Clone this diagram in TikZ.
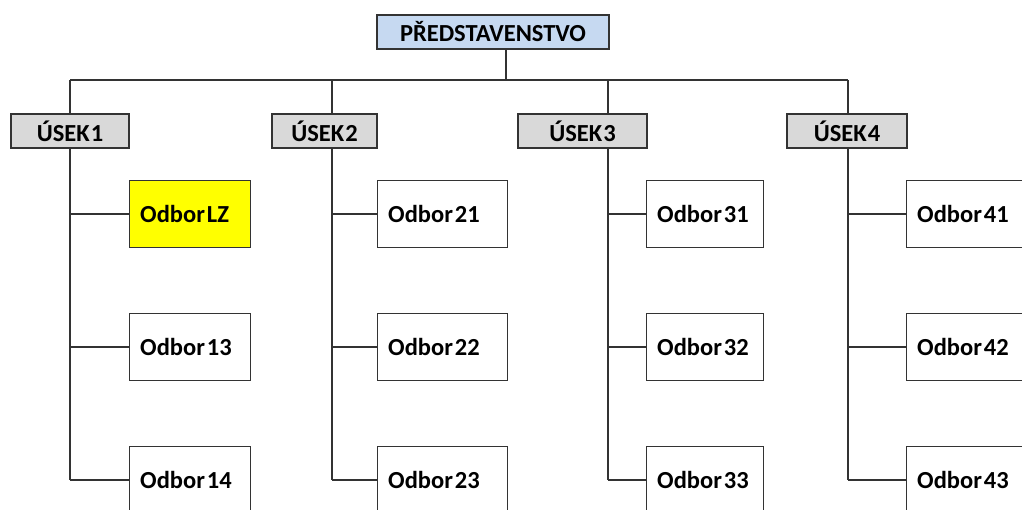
\documentclass[tikz,border=0pt]{standalone}
\usepackage{fontspec}
\setmainfont{Carlito}
\definecolor{lineC}{HTML}{333333}
\definecolor{blueF}{HTML}{C6D9F1}
\definecolor{grayF}{HTML}{D9D9D9}
\definecolor{yelF}{HTML}{FFFF00}
\begin{document}
\begin{tikzpicture}[x=1pt,y=-1pt,
  lbl/.style={font=\fontsize{24.5}{26}\selectfont\bfseries,text=black},
  box/.style={draw=lineC,line width=1.4pt,rectangle,inner sep=0pt,lbl},
  headbox/.style={box,fill=blueF,minimum height=34pt},
  usekbox/.style={box,fill=grayF,minimum height=34pt},
  odborbox/.style={box,fill=white,minimum height=67pt},
  conn/.style={draw=lineC,line width=1.3pt}]
\useasboundingbox (0,0) rectangle (1022,509);
\clip (0,0) rectangle (1022,509);
% head
\node[headbox,minimum width=232pt] (pred) at (493,32) {PŘEDSTAVENSTVO};
\coordinate (hub) at (506,80);
% useks
\node[usekbox,minimum width=118pt] (u1) at (70,131) {ÚSEK\hspace{1pt}1};
\node[usekbox,minimum width=105pt] (u2) at (324.5,131) {ÚSEK\hspace{1pt}2};
\node[usekbox,minimum width=129pt] (u3) at (582.5,131) {ÚSEK\hspace{1pt}3};
\node[usekbox,minimum width=120pt] (u4) at (847,131) {ÚSEK\hspace{1pt}4};
\coordinate (t1) at (70,80);
\coordinate (t2) at (332,80);
\coordinate (t3) at (608,80);
\coordinate (t4) at (848,80);
\draw[conn] (pred.south -| hub) -- (hub);
\draw[conn] (t1) -- (t4);
\draw[conn] (t1) -- (u1.north -| t1);
\draw[conn] (t2) -- (u2.north -| t2);
\draw[conn] (t3) -- (u3.north -| t3);
\draw[conn] (t4) -- (u4.north -| t4);
% odbor boxes
\newcommand{\odb}[6]{% name, left, width, y, fill, text
  \node[odborbox,fill=#5,minimum width=#3pt,anchor=west] (#1) at (#2,#4) {};
  \node[lbl,anchor=west,inner sep=0pt] at (#2+11,#4) {#6};
}
\odb{o11}{129}{121}{214}{yelF}{Odbor\hspace{2pt}LZ}
\odb{o12}{129}{121}{347}{white}{Odbor\hspace{2pt}13}
\odb{o13}{129}{121}{480}{white}{Odbor\hspace{2pt}14}
\odb{o21}{377}{130}{214}{white}{Odbor\hspace{2pt}21}
\odb{o22}{377}{130}{347}{white}{Odbor\hspace{2pt}22}
\odb{o23}{377}{130}{480}{white}{Odbor\hspace{2pt}23}
\odb{o31}{646}{117}{214}{white}{Odbor\hspace{2pt}31}
\odb{o32}{646}{117}{347}{white}{Odbor\hspace{2pt}32}
\odb{o33}{646}{117}{480}{white}{Odbor\hspace{2pt}33}
\odb{o41}{906}{130}{214}{white}{Odbor\hspace{2pt}41}
\odb{o42}{906}{130}{347}{white}{Odbor\hspace{2pt}42}
\odb{o43}{906}{130}{480}{white}{Odbor\hspace{2pt}43}
% vertical spines
\coordinate (s1) at (70,480);
\coordinate (s2) at (332,480);
\coordinate (s3) at (608,480);
\coordinate (s4) at (848,480);
\draw[conn] (u1.south -| s1) -- (s1);
\draw[conn] (u2.south -| s2) -- (s2);
\draw[conn] (u3.south -| s3) -- (s3);
\draw[conn] (u4.south -| s4) -- (s4);
\foreach \c/\s in {o11/s1,o12/s1,o13/s1,o21/s2,o22/s2,o23/s2,o31/s3,o32/s3,o33/s3,o41/s4,o42/s4,o43/s4}{
  \draw[conn] (\c.west -| \s) -- (\c.west);
}
\end{tikzpicture}
\end{document}
